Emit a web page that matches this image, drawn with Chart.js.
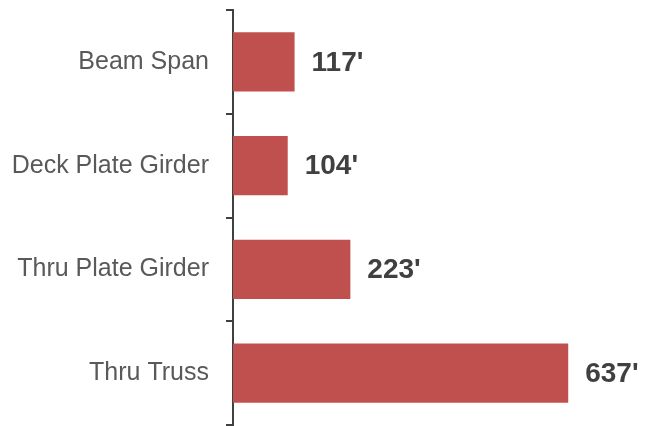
<!DOCTYPE html>
<html>
<head>
<meta charset="utf-8">
<script src="https://cdn.jsdelivr.net/npm/chart.js@4/dist/chart.umd.min.js"></script>
<style>
  html, body { margin: 0; padding: 0; background: #fff; }
  #wrap { width: 656px; height: 426px; }
</style>
</head>
<body>
<div id="wrap"><canvas id="spanChart" width="656" height="426"></canvas></div>
<script>
// ----------------------
// Data
// ----------------------
const bridgeTypes = ["Beam Span", "Deck Plate Girder", "Thru Plate Girder", "Thru Truss"];
const spanFeet = [117, 104, 223, 637];
const xMax = 800;

// ----------------------
// Value labels after each bar
// ----------------------
const valueLabels = {
  id: "valueLabels",
  afterDatasetsDraw(chart) {
    const ctx = chart.ctx;
    const meta = chart.getDatasetMeta(0);
    ctx.save();
    ctx.font = "bold 28px 'Liberation Sans', Arial, sans-serif";
    ctx.fillStyle = "#404040";
    ctx.textAlign = "left";
    ctx.textBaseline = "middle";
    meta.data.forEach((bar, i) => {
      ctx.fillText(spanFeet[i] + "'", bar.x + 17, bar.y + 1);
    });
    ctx.restore();
  }
};

new Chart(document.getElementById("spanChart"), {
  type: "bar",
  data: {
    labels: bridgeTypes,
    datasets: [{
      data: spanFeet,
      backgroundColor: "#C0504D",
      borderWidth: 0,
      categoryPercentage: 1,
      barPercentage: 0.57
    }]
  },
  options: {
    indexAxis: "y",
    responsive: false,
    animation: false,
    layout: { padding: { top: 10, bottom: 1, right: 2, left: 0 } },
    plugins: { legend: { display: false }, tooltip: { enabled: false } },
    scales: {
      x: { display: false, min: 0, max: xMax },
      y: {
        afterFit(scale) {
          scale.width = 233;
          scale.paddingTop = 0;
          scale.paddingBottom = 0;
        },
        grid: {
          offset: true,
          drawOnChartArea: false,
          color: "#404040",
          tickLength: 7,
          lineWidth: 2
        },
        border: { color: "#404040", width: 2 },
        ticks: {
          color: "#595959",
          padding: 17,
          font: { family: "'Liberation Sans', Arial, sans-serif", size: 25 }
        }
      }
    }
  },
  plugins: [valueLabels]
});
</script>
</body>
</html>
